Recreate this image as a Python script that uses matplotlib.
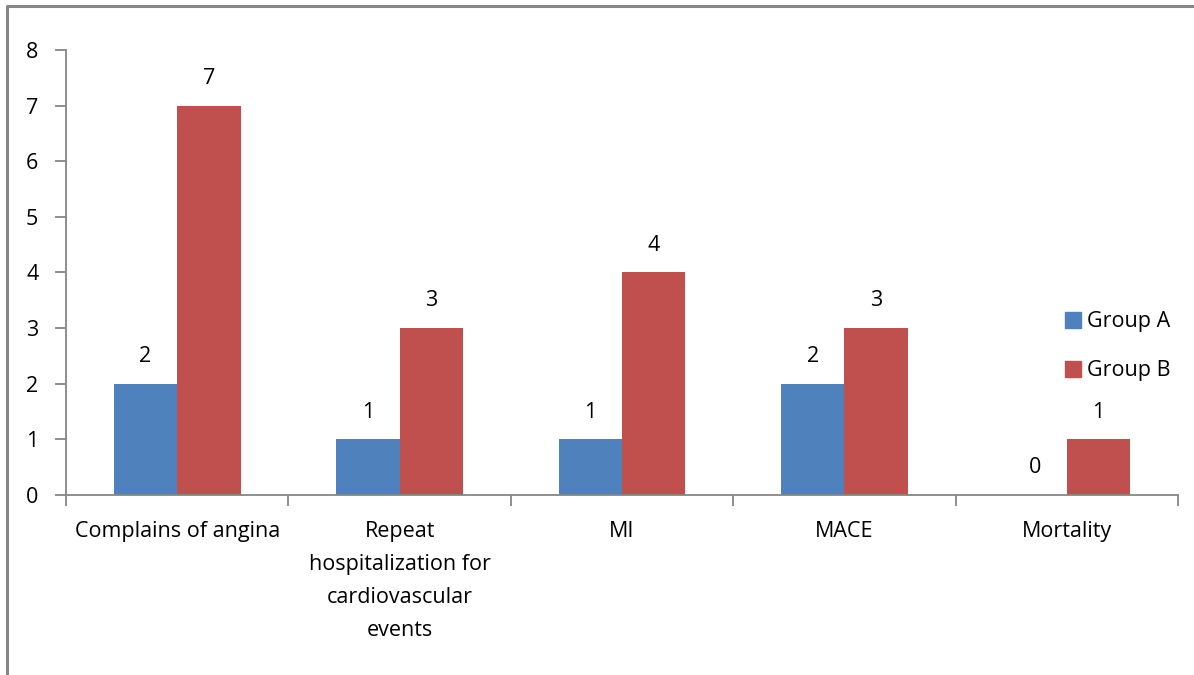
import numpy as np
import matplotlib.pyplot as plt
from matplotlib.lines import Line2D

categories = ["Complains of angina",
              "Repeat\nhospitalization for\ncardiovascular\nevents",
              "MI", "MACE", "Mortality"]
group_a = [2, 1, 1, 2, 0]
group_b = [7, 3, 4, 3, 1]
series_names = ["Group A", "Group B"]

plt.rcParams['font.family'] = ['Open Sans', 'DejaVu Sans']
axis_gray = "#868686"

fig = plt.figure(figsize=(11.94, 6.75), dpi=100)
ax = fig.add_axes([0.0553, 0.2667, 0.9313, 0.6592])

x = np.arange(len(categories))
w = 0.285
bars_a = ax.bar(x - w / 2, group_a, w, color="#4F81BD", label=series_names[0])
bars_b = ax.bar(x + w / 2, group_b, w, color="#C0504D", label=series_names[1])

# değer etiketleri
for bars in (bars_a, bars_b):
    for b in bars:
        h = b.get_height()
        ax.annotate(f"{h:g}", (b.get_x() + b.get_width() / 2, h),
                    xytext=(0, 12), textcoords="offset points",
                    ha="center", va="bottom", fontsize=15.5)

ax.set_xlim(-0.5, len(categories) - 0.5)
ax.set_ylim(0, 8)
ax.set_yticks(range(0, 9))

# x ekseni: etiketler ortada, çentikler kategoriler arasında
ax.set_xticks(x)
ax.set_xticklabels(categories, fontsize=15.5, linespacing=1.74, va="top")
ax.tick_params(axis="x", length=0, pad=19)
ax.set_xticks(np.arange(-0.5, len(categories)), minor=True)
ax.tick_params(axis="x", which="minor", length=8, color=axis_gray, width=1.3)
ax.tick_params(axis="y", length=8, color=axis_gray, width=1.3, labelsize=15.5, pad=12)

for s in ["top", "right"]:
    ax.spines[s].set_visible(False)
for s in ["left", "bottom"]:
    ax.spines[s].set_color(axis_gray)
    ax.spines[s].set_linewidth(1.3)

handles = [Line2D([], [], marker="s", linestyle="none", markersize=11,
                  color=c) for c in ["#4F81BD", "#C0504D"]]
fig.legend(handles, series_names, loc="center left",
           bbox_to_anchor=(0.872, 0.487), frameon=False, fontsize=15.5,
           handletextpad=0.05, labelspacing=1.3, handlelength=1.2)

# çerçeve
fig.add_artist(Line2D([0.006, 0.006, 1.0], [0.0, 0.991, 0.991],
                      transform=fig.transFigure, color=axis_gray, lw=2.2))

fig.savefig("out.png", dpi=100)
